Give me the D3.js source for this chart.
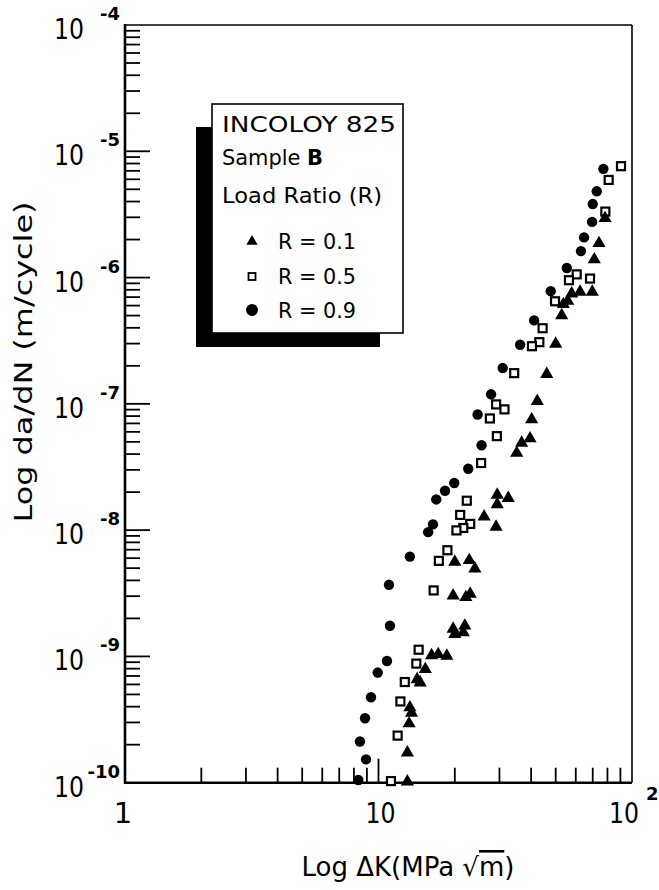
<!DOCTYPE html>
<html>
<head>
<meta charset="utf-8">
<script src="https://cdn.jsdelivr.net/npm/d3@7.9.0/dist/d3.min.js"></script>
<style>
  body { margin: 0; background: #fff; }
  text { font-family: "DejaVu Sans", sans-serif; fill: #000; }
</style>
</head>
<body>
<svg id="chart" width="659" height="890"></svg>
<script>
// R = 0.1 (filled triangles)
const r01K = [78.3, 74.1, 71.0, 69.7, 62.4, 57.8, 55.8, 53.6, 52.8, 50.0, 46.1, 42.3, 40.2, 39.6,
  36.7, 35.1, 32.5, 29.4, 29.4, 26.1, 29.1, 22.8, 20.0, 24.0, 19.7, 23.0, 22.1, 19.7, 21.9, 20.0,
  21.6, 16.2, 17.2, 18.6, 15.3, 14.6, 14.2, 13.3, 13.5, 13.2, 13.0, 13.0];
const r01Rate = [2.95e-6, 1.87e-6, 1.39e-6, 7.69e-7, 7.69e-7, 7.45e-7, 6.52e-7, 6.14e-7, 5.01e-7,
  2.98e-7, 1.72e-7, 1.05e-7, 7.52e-8, 5.31e-8, 4.91e-8, 4.08e-8, 1.79e-8, 1.90e-8, 1.60e-8, 1.28e-8,
  1.06e-8, 5.77e-9, 5.60e-9, 4.95e-9, 3.03e-9, 3.13e-9, 2.94e-9, 1.65e-9, 1.75e-9, 1.50e-9, 1.55e-9,
  1.02e-9, 1.04e-9, 1.01e-9, 7.91e-10, 6.19e-10, 6.58e-10, 3.94e-10, 3.57e-10, 2.94e-10, 1.73e-10, 1.02e-10];

// R = 0.5 (open squares)
const r05K = [90.5, 80.9, 78.5, 68.3, 60.5, 56.4, 49.7, 44.4, 43.1, 40.3, 34.3, 29.1, 31.4, 27.5,
  29.3, 25.4, 22.3, 21.0, 23.0, 21.6, 20.3, 18.7, 17.3, 16.5, 14.4, 14.1, 12.7, 12.2, 11.9, 11.2];
const r05Rate = [7.62e-6, 5.93e-6, 3.33e-6, 9.82e-7, 1.06e-6, 9.53e-7, 6.49e-7, 3.97e-7, 3.08e-7,
  2.86e-7, 1.75e-7, 9.9e-8, 9.04e-8, 7.66e-8, 5.55e-8, 3.40e-8, 1.71e-8, 1.32e-8, 1.12e-8, 1.04e-8,
  9.95e-9, 6.93e-9, 5.71e-9, 3.33e-9, 1.13e-9, 8.77e-10, 6.27e-10, 4.40e-10, 2.36e-10, 1.03e-10];

// R = 0.9 (filled circles)
const r09K = [77.1, 72.6, 70.0, 69.6, 64.7, 62.9, 55.3, 47.8, 41.1, 36.2, 30.9, 27.8, 24.6, 25.5,
  22.6, 19.9, 18.3, 16.9, 16.4, 15.7, 13.3, 11.0, 11.1, 10.8, 9.93, 9.34, 8.85, 8.45, 8.93, 8.32];
const r09Rate = [7.26e-6, 4.82e-6, 3.82e-6, 2.76e-6, 2.08e-6, 1.62e-6, 1.19e-6, 7.80e-7, 4.58e-7,
  2.94e-7, 1.92e-7, 1.19e-7, 8.24e-8, 4.70e-8, 3.06e-8, 2.36e-8, 2.05e-8, 1.75e-8, 1.11e-8, 9.64e-9,
  6.17e-9, 3.69e-9, 1.75e-9, 9.2e-10, 7.45e-10, 4.75e-10, 3.24e-10, 2.12e-10, 1.53e-10, 1.05e-10];

const legendLabels = ["R = 0.1", "R = 0.5", "R = 0.9"];
const yDecades = [-10, -9, -8, -7, -6, -5, -4];
const xDecades = [0, 1, 2];

const svg = d3.select("#chart");

const x = d3.scaleLog().domain([1, 100]).range([125, 632]);
const y = d3.scaleLog().domain([1e-10, 1e-4]).range([782.7, 25]);

const isDecade = v => Math.abs(Math.log10(v) - Math.round(Math.log10(v))) < 1e-6;

// frame
const [x0, x1] = x.range();
const [y0, y1] = y.range();
svg.append("line").attr("x1", x0).attr("x2", x1).attr("y1", y1).attr("y2", y1)
  .attr("stroke", "#000").attr("stroke-width", 1.6);
svg.append("line").attr("x1", x1).attr("x2", x1).attr("y1", y1).attr("y2", y0)
  .attr("stroke", "#000").attr("stroke-width", 1.6);
svg.append("line").attr("x1", x0).attr("x2", x0).attr("y1", y1 - 1).attr("y2", y0 + 1)
  .attr("stroke", "#000").attr("stroke-width", 2.6);
svg.append("line").attr("x1", x0 - 1).attr("x2", x1).attr("y1", y0).attr("y2", y0)
  .attr("stroke", "#000").attr("stroke-width", 2.4);

// ticks (inward)
const yTicks = y.ticks().filter(v => v > 1.01e-10 && v < 0.99e-4);
svg.append("g").selectAll("line").data(yTicks).join("line")
  .attr("x1", x0).attr("x2", d => x0 + (isDecade(d) ? 25 : 15))
  .attr("y1", d => y(d)).attr("y2", d => y(d))
  .attr("stroke", "#000").attr("stroke-width", 1.8);

const xTicks = x.ticks().filter(v => v > 1.01 && v < 99);
svg.append("g").selectAll("line").data(xTicks).join("line")
  .attr("x1", d => x(d)).attr("x2", d => x(d))
  .attr("y1", y0).attr("y2", d => y0 - (isDecade(d) ? 24 : 15))
  .attr("stroke", "#000").attr("stroke-width", 1.8);

// y tick labels
const yLab = svg.append("g").selectAll("g").data(yDecades).join("g");
yLab.append("text")
  .attr("x", 84).attr("y", d => y(Math.pow(10, d)) + 14)
  .attr("text-anchor", "end")
  .attr("font-size", 29)
  .attr("textLength", 30).attr("lengthAdjust", "spacingAndGlyphs")
  .text("10");
yLab.append("text")
  .attr("x", 120).attr("y", d => y(Math.pow(10, d)) - 5)
  .attr("text-anchor", "end")
  .attr("font-size", 18).attr("font-weight", "bold")
  .text(d => "-" + Math.abs(d));

// x tick labels
const xLab = svg.append("g").selectAll("g").data(xDecades).join("g");
xLab.append("text")
  .attr("x", d => d === 0 ? x(1) - 2 : d === 1 ? x(10) + 2 : x(100) - 8)
  .attr("y", 823)
  .attr("text-anchor", "middle")
  .attr("font-size", 29)
  .attr("textLength", d => d === 0 ? null : 30).attr("lengthAdjust", "spacingAndGlyphs")
  .text(d => d === 0 ? "1" : "10");
xLab.filter(d => d === 2).append("text")
  .attr("x", x(100) + 14).attr("y", 800)
  .attr("font-size", 18).attr("font-weight", "bold")
  .text(d => d);

// axis titles
svg.append("text")
  .attr("transform", "translate(32,362) rotate(-90)")
  .attr("text-anchor", "middle")
  .attr("font-size", 25)
  .attr("textLength", 321).attr("lengthAdjust", "spacingAndGlyphs")
  .text("Log da/dN (m/cycle)");

const xt = svg.append("text")
  .attr("x", 408).attr("y", 876)
  .attr("text-anchor", "middle")
  .attr("font-size", 26);
xt.append("tspan").text("Log \u0394K(MPa \u221A");
xt.append("tspan").style("text-decoration", "overline").text("m");
xt.append("tspan").text(")");

// legend box with shadow
svg.append("rect").attr("x", 196).attr("y", 127).attr("width", 184).attr("height", 220)
  .attr("fill", "#000");
svg.append("rect").attr("x", 212).attr("y", 104).attr("width", 191).attr("height", 229)
  .attr("fill", "#fff").attr("stroke", "#000").attr("stroke-width", 1.6);

svg.append("text").attr("x", 222).attr("y", 132).attr("font-size", 21)
  .attr("textLength", 174).attr("lengthAdjust", "spacingAndGlyphs").text("INCOLOY 825");
const sb = svg.append("text").attr("x", 222).attr("y", 165).attr("font-size", 21)
  .attr("textLength", 101).attr("lengthAdjust", "spacingAndGlyphs");
sb.append("tspan").text("Sample ");
sb.append("tspan").attr("font-weight", "bold").text("B");
svg.append("text").attr("x", 222).attr("y", 203).attr("font-size", 21)
  .attr("textLength", 160).attr("lengthAdjust", "spacingAndGlyphs").text("Load Ratio (R)");

const legendY = [241.5, 276.5, 310];
const leg = svg.append("g").selectAll("g").data(legendLabels).join("g");
leg.append("text")
  .attr("x", 278).attr("y", (d, i) => legendY[i] + 7.5)
  .attr("font-size", 21)
  .attr("textLength", 78).attr("lengthAdjust", "spacingAndGlyphs")
  .text(d => d);
leg.filter((d, i) => i === 0).append("path")
  .attr("transform", `translate(252,${legendY[0]})`)
  .attr("d", d3.symbol(d3.symbolTriangle, 55)());
leg.filter((d, i) => i === 1).append("rect")
  .attr("x", 252 - 3.5).attr("y", legendY[1] - 3.5).attr("width", 7).attr("height", 7)
  .attr("fill", "#fff").attr("stroke", "#000").attr("stroke-width", 1.8);
leg.filter((d, i) => i === 2).append("circle")
  .attr("cx", 252).attr("cy", legendY[2]).attr("r", 6);

// data
const plot = svg.append("g");
plot.selectAll("circle.r09").data(d3.zip(r09K, r09Rate)).join("circle")
  .attr("class", "r09")
  .attr("cx", d => x(d[0])).attr("cy", d => y(d[1])).attr("r", 5.2)
  .attr("fill", "#000");

plot.selectAll("rect.r05").data(d3.zip(r05K, r05Rate)).join("rect")
  .attr("class", "r05")
  .attr("x", d => x(d[0]) - 4).attr("y", d => y(d[1]) - 4)
  .attr("width", 8).attr("height", 8)
  .attr("fill", "#fff").attr("stroke", "#000").attr("stroke-width", 2.2);

plot.selectAll("path.r01").data(d3.zip(r01K, r01Rate)).join("path")
  .attr("class", "r01")
  .attr("transform", d => `translate(${x(d[0])},${y(d[1])})`)
  .attr("d", d3.symbol(d3.symbolTriangle, 75)())
  .attr("fill", "#000");
</script>
</body>
</html>
